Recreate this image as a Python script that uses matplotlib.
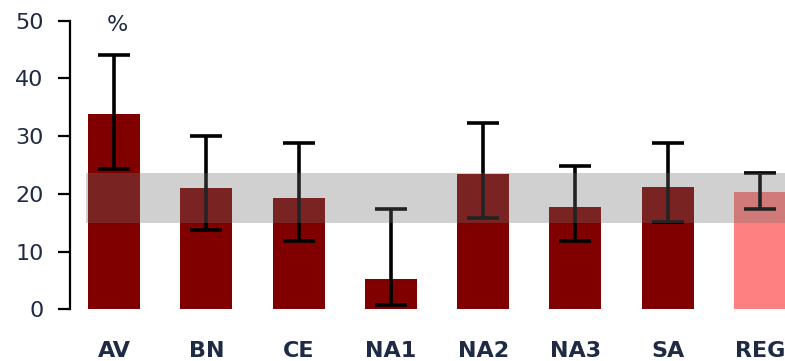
import matplotlib
matplotlib.use("Agg")
import matplotlib.pyplot as plt
import numpy as np

# Share of cases (%) per region, with lower/upper interval bounds
regions = ["AV", "BN", "CE", "NA1", "NA2", "NA3", "SA", "REG"]
values = [33.8, 21.1, 19.3, 5.2, 23.5, 17.8, 21.2, 20.4]
ci_low = [24.3, 13.7, 11.8, 0.7, 15.9, 11.8, 15.2, 17.4]
ci_high = [44.1, 30.0, 28.8, 17.4, 32.3, 24.8, 28.8, 23.6]
band_low, band_high = 14.9, 23.7
yticks = [0, 10, 20, 30, 40, 50]

bar_colors = ["#800000"] * 7 + ["#FF8080"]
text_color = "#1F2A44"

fig = plt.figure(figsize=(7.85, 3.61), dpi=100)
ax = fig.add_axes([70 / 785, 51.7 / 361, 715 / 785, 288.6 / 361])

x = np.arange(len(regions))
vals = np.array(values)
err = np.vstack([vals - np.array(ci_low), np.array(ci_high) - vals])

ax.bar(x, vals, width=0.565, color=bar_colors, zorder=1)
ax.errorbar(x, vals, yerr=err, fmt="none", ecolor="black", elinewidth=2.6,
            capsize=11.5, capthick=2.6, zorder=2)

# reference band across all regions
ax.fill_between([-0.305, 8.0], band_low, band_high, color="#6E6E6E",
                alpha=0.32, linewidth=0, zorder=3)

ax.set_xlim(-0.478, 7.272)
ax.set_ylim(0, 50)
ax.set_yticks(yticks)
ax.set_yticklabels([str(t) for t in yticks])
ax.set_xticks(x)
ax.set_xticklabels(regions, fontweight="bold")

for side in ["top", "right", "bottom"]:
    ax.spines[side].set_visible(False)
ax.spines["left"].set_linewidth(1.6)
ax.spines["left"].set_color("black")

ax.tick_params(axis="y", length=8.6, width=1.6, pad=10.5,
               labelsize=16, labelcolor=text_color)
ax.tick_params(axis="x", length=0, pad=22.5, labelsize=16, labelcolor=text_color)

ax.text(0.04, 49.3, "%", ha="center", va="center", fontsize=16,
        color=text_color)

fig.savefig("out.png", dpi=100)
